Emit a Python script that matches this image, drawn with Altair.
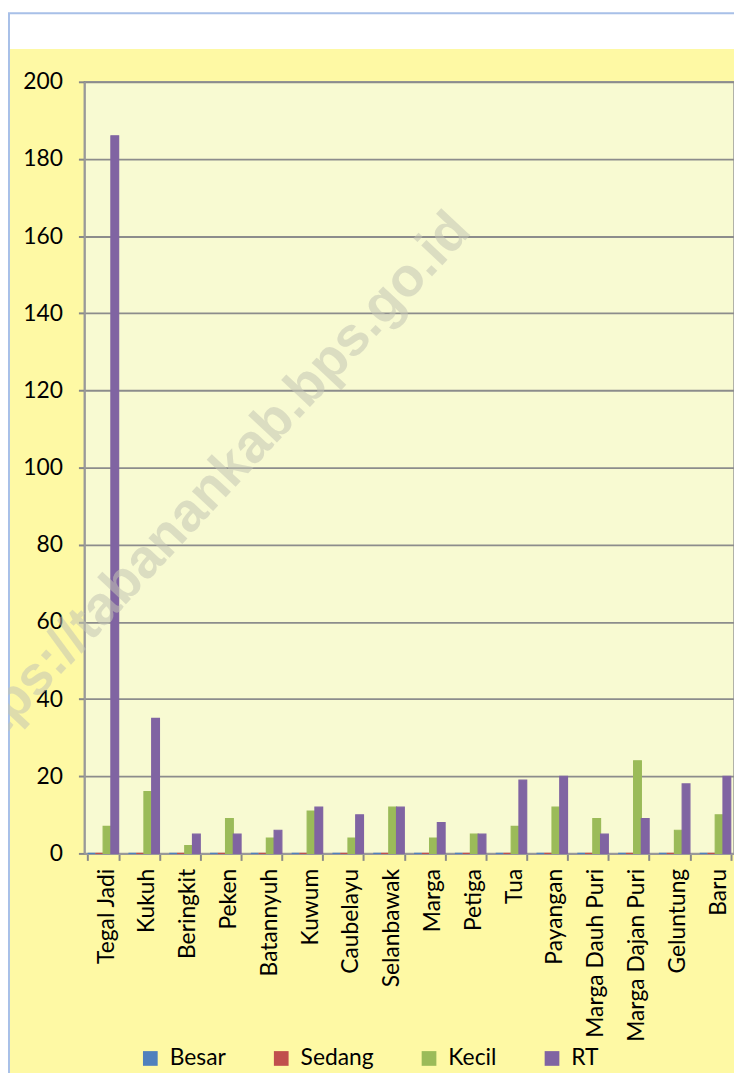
import altair as alt
import pandas as pd

categories = ["Tegal Jadi", "Kukuh", "Beringkit", "Peken", "Batannyuh", "Kuwum",
              "Caubelayu", "Selanbawak", "Marga", "Petiga", "Tua", "Payangan",
              "Marga Dauh Puri", "Marga Dajan Puri", "Geluntung", "Baru"]
series = ["Besar", "Sedang", "Kecil", "RT"]
besar = [0] * 16
sedang = [0] * 16
kecil = [7, 16, 2, 9, 4, 11, 4, 12, 4, 5, 7, 12, 9, 24, 6, 10]
rt = [186, 35, 5, 5, 6, 12, 10, 12, 8, 5, 19, 20, 5, 9, 18, 20]
colors = ["#4F81BD", "#C0504D", "#9BBB59", "#8064A2"]
y_ticks = list(range(0, 201, 20))

rows = []
for s, vals in zip(series, [besar, sedang, kecil, rt]):
    for c, v in zip(categories, vals):
        rows.append({"Desa": c, "Jenis": s, "Jumlah": v})
df = pd.DataFrame(rows)

W, H = 655, 778
PAD_L, PAD_T, PAD_R, PAD_B = 77, 70, 0, 217

bars = alt.Chart(df).mark_bar(strokeWidth=1.2).encode(
    x=alt.X("Desa:N", sort=categories, title=None,
            scale=alt.Scale(paddingInner=0.24, paddingOuter=0.08),
            axis=alt.Axis(labelAngle=270, labelFontSize=23, labelFont="Lato",
                          labelColor="#000000", labelLimit=400, labelPadding=8,
                          tickBand="extent", tickSize=7, tickColor="#888888",
                          tickWidth=2, domainColor="#999999", domainWidth=2,
                          labelOffset=3)),
    xOffset=alt.XOffset("Jenis:N", sort=series),
    y=alt.Y("Jumlah:Q", title=None,
            scale=alt.Scale(domain=[0, 200], nice=False),
            axis=alt.Axis(values=y_ticks, labelFontSize=23, labelFont="Lato",
                          labelColor="#000000", labelPadding=16, tickSize=6,
                          tickColor="#888888", tickWidth=2,
                          domainColor="#999999", domainWidth=2,
                          grid=True, gridColor="#8c8c8c", gridWidth=1.8)),
    color=alt.Color("Jenis:N", sort=series,
                    scale=alt.Scale(domain=series, range=colors),
                    legend=alt.Legend(title=None, orient="none", direction="horizontal",
                                      legendX=55, legendY=973, symbolType="square",
                                      symbolSize=220, symbolStrokeWidth=0,
                                      labelFontSize=23, labelFont="Lato",
                                      labelColor="#000000", columnPadding=44,
                                      labelOffset=8)),
    stroke=alt.Stroke("Jenis:N", sort=series,
                      scale=alt.Scale(domain=series, range=colors), legend=None),
)

top_strip = alt.Chart(alt.Data(values=[{}])).mark_rect(fill="#FFFFFF").encode(
    x=alt.value(-PAD_L - 20), x2=alt.value(W + 30),
    y=alt.value(-PAD_T - 20), y2=alt.value(-33))

frame = alt.Chart(alt.Data(values=[{}])).mark_rect(
    fillOpacity=0, stroke="#A8C0E8", strokeWidth=2).encode(
    x=alt.value(-PAD_L + 1), x2=alt.value(W + 40),
    y=alt.value(-PAD_T + 1), y2=alt.value(H + PAD_B + 40))

watermark = alt.Chart(alt.Data(values=[{}])).mark_text(
    text="https://tabanankab.bps.go.id", angle=313, fontSize=55,
    font="Liberation Sans", fontWeight="bold", color="#c4c6b4", opacity=0.55).encode(
    x=alt.value(124), y=alt.value(414))

chart = alt.layer(top_strip, frame, bars, watermark).properties(
    width=W, height=H,
    autosize=alt.AutoSizeParams(type="none"),
    padding={"left": PAD_L, "top": PAD_T, "right": PAD_R, "bottom": PAD_B},
    background="#FEF9A4",
).configure_view(fill="#F8FAD2", stroke="#9a9a9a", strokeWidth=1.5)

chart.save("out.html", embed_options={"renderer": "svg", "actions": False})
